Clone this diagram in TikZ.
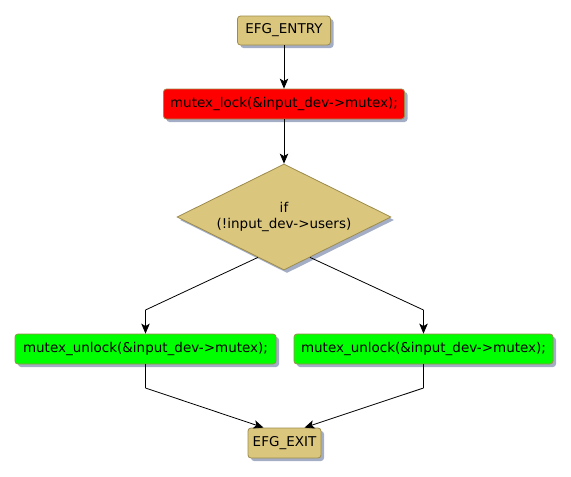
\documentclass[tikz,border=0pt]{standalone}
\usepackage{fontspec}
\setmainfont{DejaVu Sans}
\usetikzlibrary{shapes.geometric,shadows,arrows.meta,calc}
\definecolor{tan}{HTML}{DBC67E}
\definecolor{edgecol}{HTML}{9C8B4D}
\definecolor{shadowcol}{HTML}{A3AEC6}
\definecolor{redfill}{HTML}{FF0000}
\definecolor{greenfill}{HTML}{00FF00}
\begin{document}
\begin{tikzpicture}[x=1pt,y=-1pt,
  font=\fontsize{13.5}{16}\selectfont,
  shad/.style={drop shadow={shadow xshift=3pt,shadow yshift=-3pt,fill=shadowcol,opacity=1}},
  box/.style={draw=edgecol,line width=0.8pt,rounded corners=3pt,inner sep=0pt,shad,text=black},
  decis/.style={diamond,draw=edgecol,line width=0.8pt,fill=tan,inner sep=0pt,shad,
    aspect=2.02,minimum width=214pt,minimum height=106pt,align=center},
  arr/.style={draw=black,line width=0.8pt,-{Stealth[length=10pt,width=8.5pt,inset=2.5pt]}},
  ln/.style={draw=black,line width=0.8pt}]
\useasboundingbox (0,0) rectangle (571,477);
\node[box,fill=tan,minimum width=93pt,minimum height=29pt] (entry) at (284,30.5) {EFG\_ENTRY};
\node[box,fill=redfill,minimum width=241pt,minimum height=30pt] (lock) at (284,104) {mutex\_lock(\&input\_dev->mutex);};
\node[decis] (dec) at (284,217) {if\\(!input\_dev->users)};
\node[box,fill=greenfill,minimum width=261pt,minimum height=30pt] (u1) at (145.5,349) {mutex\_unlock(\&input\_dev->mutex);};
\node[box,fill=greenfill,minimum width=259pt,minimum height=30pt] (u2) at (423.5,349) {mutex\_unlock(\&input\_dev->mutex);};
\node[box,fill=tan,minimum width=73pt,minimum height=30pt] (exit) at (284.5,443) {EFG\_EXIT};
\coordinate (dl) at ($(dec.west)!0.757!(dec.south)$);
\coordinate (dr) at ($(dec.east)!0.757!(dec.south)$);
\coordinate (bl) at (145.5,310);
\coordinate (br) at (423.5,310);
\coordinate (cl) at (145.5,388);
\coordinate (cr) at (423.5,388);
\draw[arr] (entry) -- (lock);
\draw[arr] (lock) -- (dec);
\draw[ln] (dl) -- (bl);
\draw[arr] (bl) -- (u1);
\draw[ln] (dr) -- (br);
\draw[arr] (br) -- (u2);
\draw[ln] (u1) -- (cl);
\draw[arr] (cl) -- ([xshift=-21pt]exit.north);
\draw[ln] (u2) -- (cr);
\draw[arr] (cr) -- ([xshift=20pt]exit.north);
\end{tikzpicture}
\end{document}
